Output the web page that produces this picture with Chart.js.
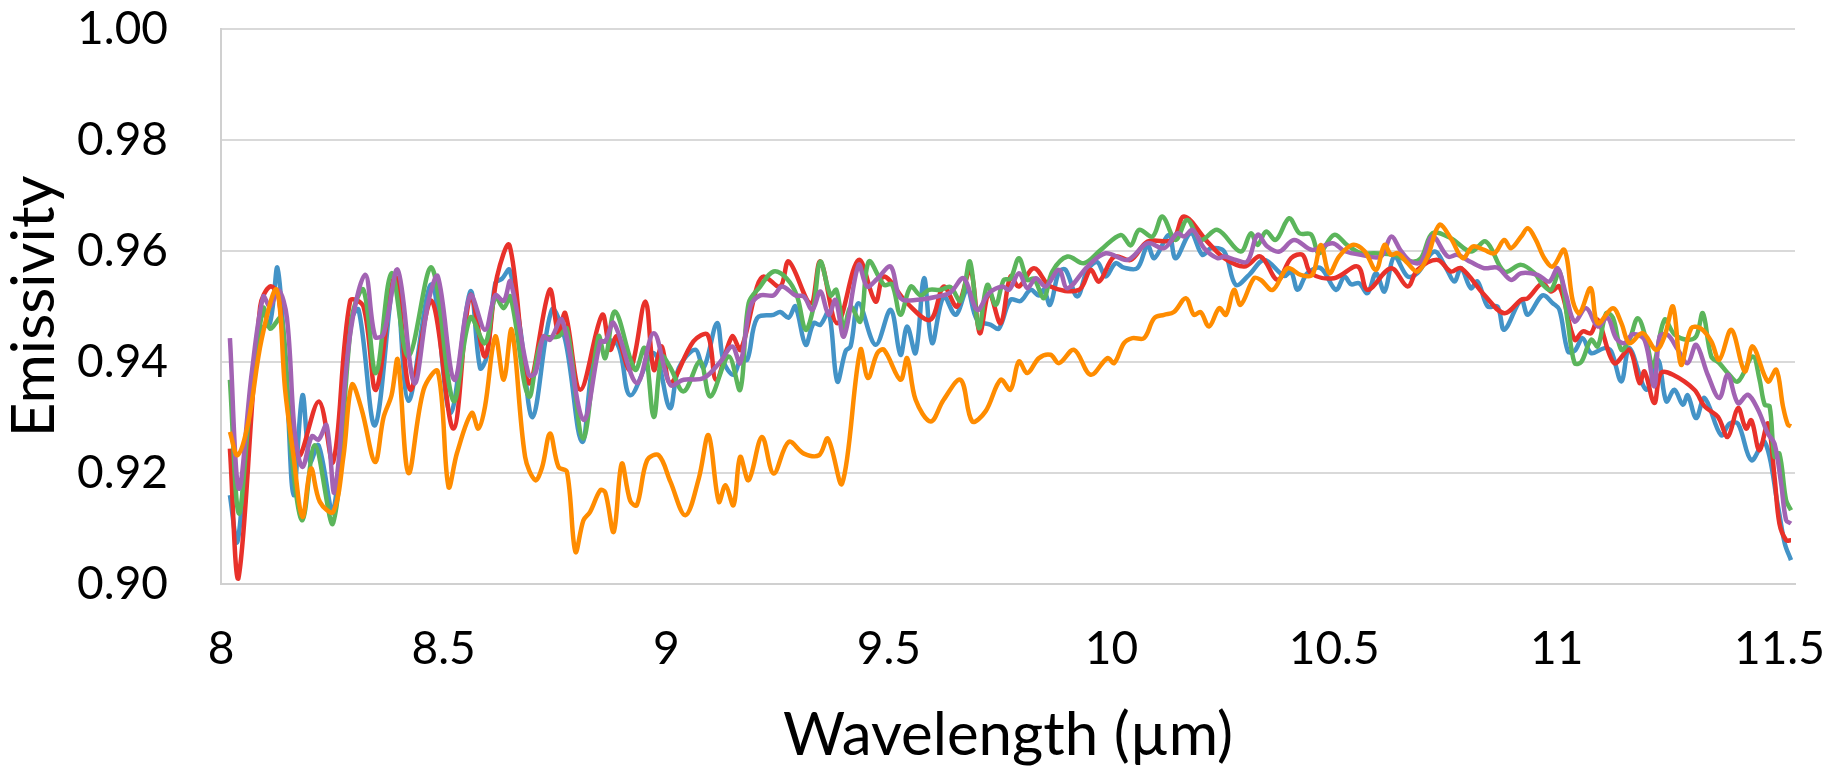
<!DOCTYPE html>
<html lang="en">
  <head>
    <meta charset="UTF-8" />
    <title>Emissivity</title>
    <script src="https://cdn.jsdelivr.net/npm/chart.js"></script>
    <style>
      body {
        margin: 0;
        background: #fff;
      }
    </style>
  </head>
  <body>
    <canvas id="myChart" width="1846" height="768"></canvas>
    <script>
      // axis ticks
      let xTicks = [8, 8.5, 9, 9.5, 10, 10.5, 11, 11.5];
      let yTicks = [0.9, 0.92, 0.94, 0.96, 0.98, 1.0];

      // [wavelength (um), emissivity]
      let red = [
        [8.020,.9244],[8.039,.901],[8.088,.950],[8.110,.9536],[8.129,.952],[8.148,.935],[8.174,.923],[8.220,.9329],[8.252,.922],[8.290,.951],[8.320,.950],[8.348,.935],[8.391,.9554],[8.425,.935],[8.473,.951],[8.522,.928],[8.560,.952],
        [8.593,.941],[8.620,.9554],[8.648,.961],[8.691,.9362],[8.738,.953],[8.758,.945],[8.773,.9488],[8.807,.935],[8.856,.9485],[8.874,.9422],[8.889,.9446],[8.919,.9386],[8.953,.9509],[8.972,.9386],[8.990,.9428],[9.009,.9362],[9.061,.9437],[9.093,.9449],[9.112,.9368],[9.148,.9446],
        [9.167,.9422],[9.204,.9536],[9.219,.9554],[9.256,.9536],[9.275,.9581],[9.324,.9506],[9.346,.9581],[9.384,.947],[9.432,.9584],[9.470,.9509],[9.489,.9554],[9.541,.9506],[9.593,.9476],[9.623,.9536],[9.653,.95],[9.683,.9566],[9.704,.9452],[9.725,.9524],[9.751,.947],
        [9.773,.9554],[9.792,.9536],[9.826,.9569],[9.863,.9536],[9.927,.953],[9.953,.9566],[9.972,.9545],[10.006,.959],[10.043,.9584],[10.081,.9617],[10.137,.962],[10.163,.9662],[10.215,.9617],[10.253,.9587],[10.298,.9572],[10.335,.959],
        [10.373,.9548],[10.403,.9587],[10.429,.9593],[10.448,.956],[10.500,.9551],[10.553,.9572],[10.575,.953],[10.628,.9569],[10.665,.9536],[10.687,.9566],[10.732,.9584],[10.762,.9563],[10.785,.9569],[10.837,.9521],[10.882,.9488],[10.920,.9512],
        [10.935,.9515],[10.968,.9542],[10.987,.9527],[11.006,.9536],[11.040,.944],[11.058,.9455],[11.077,.9452],[11.092,.9476],[11.129,.9398],[11.163,.9422],[11.186,.9362],[11.197,.9383],[11.219,.9326],[11.234,.938],[11.261,.9377],[11.309,.935],[11.332,.932],[11.362,.9301],[11.384,.9265],[11.407,.9317],[11.425,.928],[11.437,.9295],[11.455,.9241],[11.474,.9289],[11.489,.9193],[11.500,.9109],[11.515,.9079],[11.526,.9079]
      ];

      let blue = [
        [8.020,.916],[8.037,.9076],[8.061,.929],[8.091,.946],[8.110,.947],[8.127,.9569],[8.148,.935],[8.163,.916],[8.183,.934],[8.200,.922],[8.219,.925],[8.252,.913],[8.290,.947],[8.309,.9494],[8.346,.9286],[8.391,.9554],[8.421,.933],[8.473,.954],[8.515,.9308],[8.560,.9527],
        [8.582,.9389],[8.597,.941],[8.616,.9542],[8.631,.955],[8.648,.9566],[8.672,.946],[8.700,.9301],[8.743,.9494],[8.773,.944],[8.811,.9256],[8.844,.9428],[8.889,.9434],[8.919,.934],[8.972,.9416],[9.008,.9317],[9.028,.9389],[9.065,.9422],[9.084,.939],[9.114,.947],[9.129,.940],[9.151,.9377],
        [9.167,.9404],[9.182,.9404],[9.204,.9479],[9.241,.9485],[9.256,.949],[9.275,.948],[9.290,.95],[9.313,.9431],[9.331,.947],[9.346,.9467],[9.365,.949],[9.384,.9365],[9.403,.942],[9.414,.9428],[9.432,.9506],[9.470,.9431],[9.504,.9494],[9.526,.9413],[9.541,.9464],[9.560,.9416],[9.579,.9551],[9.597,.9434],[9.623,.9518],[9.650,.9485],[9.676,.953],[9.698,.9476],
        [9.729,.9467],[9.747,.946],[9.773,.9512],[9.796,.951],[9.818,.953],[9.837,.952],[9.848,.953],[9.862,.9503],[9.882,.9563],[9.897,.9566],[9.923,.9518],[9.946,.9566],[9.968,.958],[9.987,.9554],[10.009,.9578],[10.028,.957],[10.058,.9569],[10.081,.961],[10.096,.9587],[10.129,.9629],[10.144,.9587],[10.178,.9632],[10.204,.9593],[10.223,.9605],[10.253,.9599],[10.279,.9539],[10.309,.9557],
        [10.343,.9584],[10.388,.9555],[10.403,.9563],[10.418,.953],[10.440,.956],[10.470,.9569],[10.504,.953],[10.523,.9554],[10.538,.954],[10.556,.9542],[10.575,.9524],[10.594,.956],[10.613,.9527],[10.635,.959],[10.665,.9554],[10.687,.956],[10.725,.9599],[10.751,.957],[10.770,.9545],[10.785,.9569],[10.807,.9533],[10.822,.9545],[10.845,.95],[10.867,.950],[10.882,.9458],[10.920,.9512],
        [10.935,.9485],[10.968,.952],[10.991,.9506],[11.006,.9494],[11.025,.9419],[11.040,.942],[11.058,.9443],[11.077,.9416],[11.107,.9425],[11.122,.942],[11.145,.9365],[11.163,.9425],[11.201,.935],[11.227,.9404],[11.246,.9329],[11.264,.935],[11.283,.9323],[11.294,.934],[11.313,.9299],[11.332,.9335],[11.369,.9268],[11.388,.9289],[11.407,.9289],[11.437,.9223],[11.467,.9256],[11.497,.9139],[11.512,.9073],[11.526,.9043]
      ];

      let green = [
        [8.020,.9368],[8.040,.9127],[8.065,.932],[8.095,.9497],[8.110,.946],[8.136,.948],[8.159,.923],[8.183,.9115],[8.211,.925],[8.252,.911],[8.294,.948],[8.320,.953],[8.348,.938],[8.383,.956],[8.421,.941],[8.473,.957],[8.522,.933],[8.560,.948],
        [8.593,.9434],[8.616,.9518],[8.635,.9497],[8.650,.9518],[8.691,.9338],[8.721,.944],[8.758,.9446],[8.777,.946],[8.813,.9262],[8.848,.9446],[8.863,.9407],[8.885,.9491],[8.930,.9386],[8.951,.9425],[8.972,.9301],[8.990,.941],[9.009,.939],[9.039,.9347],[9.076,.9401],[9.099,.9338],[9.140,.941],[9.166,.935],
        [9.185,.9506],[9.211,.9536],[9.241,.9563],[9.271,.955],[9.294,.9518],[9.313,.9458],[9.331,.950],[9.346,.9581],[9.369,.952],[9.382,.953],[9.399,.946],[9.414,.950],[9.436,.9473],[9.455,.9581],[9.489,.9539],[9.507,.954],[9.526,.9485],[9.549,.9536],[9.571,.952],[9.590,.953],[9.616,.953],[9.638,.9535],[9.661,.951],[9.682,.9581],[9.702,.9461],[9.721,.9539],
        [9.740,.9503],[9.758,.9548],[9.773,.955],[9.792,.9587],[9.811,.9548],[9.826,.955],[9.848,.9515],[9.867,.9563],[9.901,.959],[9.938,.9578],[9.976,.9602],[10.021,.9629],[10.043,.961],[10.062,.9638],[10.092,.9626],[10.114,.9662],[10.144,.962],[10.170,.9656],[10.200,.962],[10.238,.9638],[10.290,.9599],[10.313,.9632],
        [10.328,.9611],[10.347,.9635],[10.369,.962],[10.399,.9659],[10.422,.9632],[10.448,.963],[10.466,.9596],[10.500,.9629],[10.530,.961],[10.560,.9596],[10.590,.9596],[10.635,.9593],[10.672,.9581],[10.695,.9587],[10.721,.9632],[10.762,.9623],[10.807,.9599],[10.841,.9617],[10.882,.9563],[10.920,.9575],
        [10.950,.956],[10.968,.954],[10.987,.953],[11.006,.9563],[11.025,.947],[11.040,.9398],[11.055,.940],[11.077,.944],[11.092,.9428],[11.111,.9488],[11.126,.948],[11.145,.9422],[11.163,.944],[11.182,.9479],[11.201,.944],[11.216,.9392],[11.242,.9476],[11.264,.945],[11.294,.944],[11.313,.9446],[11.328,.9488],[11.347,.941],[11.365,.9398],[11.384,.938],[11.407,.9365],[11.440,.941],[11.455,.937],[11.467,.9323],[11.478,.932],[11.489,.9229],[11.500,.9235],[11.515,.9151],[11.526,.9133]
      ];

      let purple = [
        [8.020,.9443],[8.040,.9172],[8.069,.938],[8.095,.9518],[8.110,.950],[8.129,.953],[8.148,.948],[8.166,.927],[8.183,.9211],[8.204,.9266],[8.219,.926],[8.237,.9286],[8.255,.9166],[8.290,.945],[8.324,.9557],[8.346,.9446],[8.365,.945],[8.397,.9566],[8.434,.9362],[8.466,.951],[8.487,.9554],[8.524,.9368],[8.560,.952],
        [8.593,.9458],[8.616,.952],[8.635,.951],[8.650,.9545],[8.691,.9377],[8.706,.938],[8.724,.9446],[8.739,.944],[8.766,.9476],[8.814,.9296],[8.852,.9437],[8.863,.9437],[8.882,.947],[8.934,.9362],[8.972,.9452],[9.009,.9359],[9.039,.9368],[9.084,.9371],[9.121,.940],[9.148,.9428],[9.166,.9398],
        [9.189,.95],[9.211,.952],[9.241,.952],[9.260,.9536],[9.290,.952],[9.309,.9518],[9.328,.9494],[9.346,.9527],[9.365,.9485],[9.380,.9512],[9.399,.9446],[9.432,.9575],[9.451,.9536],[9.474,.955],[9.504,.9572],[9.526,.9515],[9.564,.9512],[9.609,.9518],[9.638,.9525],[9.668,.9551],[9.698,.9494],[9.725,.9524],
        [9.755,.9536],[9.770,.953],[9.792,.956],[9.811,.9533],[9.830,.9551],[9.852,.9536],[9.882,.9566],[9.901,.9533],[9.946,.9572],[9.987,.9596],[10.036,.9584],[10.081,.9614],[10.118,.9605],[10.148,.9632],[10.163,.9626],[10.182,.9638],[10.208,.9605],[10.238,.9587],[10.253,.959],[10.279,.9584],[10.305,.9581],[10.328,.9629],
        [10.350,.9608],[10.377,.9599],[10.410,.962],[10.451,.9602],[10.496,.9614],[10.523,.960],[10.560,.9593],[10.605,.959],[10.628,.9626],[10.650,.960],[10.672,.9581],[10.695,.958],[10.721,.9626],[10.755,.959],[10.777,.9593],[10.807,.958],[10.837,.9569],[10.867,.957],[10.897,.9548],[10.920,.956],
        [10.957,.9557],[10.983,.9545],[11.002,.9569],[11.021,.952],[11.040,.9473],[11.066,.9497],[11.092,.9464],[11.114,.948],[11.133,.9443],[11.152,.9434],[11.171,.945],[11.197,.944],[11.219,.9356],[11.231,.9446],[11.249,.9449],[11.272,.9422],[11.294,.9398],[11.313,.9431],[11.339,.9377],[11.365,.9335],[11.384,.9377],[11.407,.9326],[11.429,.9341],[11.452,.9314],[11.474,.9271],[11.489,.9253],[11.504,.918],[11.515,.9115],[11.526,.9109]
      ];

      let orange = [
        [8.020,.9274],[8.037,.9232],[8.061,.929],[8.091,.944],[8.125,.953],[8.144,.935],[8.163,.923],[8.183,.9121],[8.202,.9208],[8.222,.9148],[8.252,.913],[8.275,.923],[8.294,.9359],[8.316,.9314],[8.346,.922],[8.365,.930],[8.383,.934],[8.397,.9404],[8.421,.920],[8.455,.935],[8.487,.9383],[8.511,.9175],[8.530,.9236],[8.563,.9308],
        [8.578,.928],[8.593,.932],[8.616,.9446],[8.635,.9368],[8.653,.9458],[8.683,.9229],[8.706,.9187],[8.721,.921],[8.739,.9271],[8.758,.9211],[8.777,.9202],[8.796,.9058],[8.814,.9115],[8.829,.913],[8.852,.9169],[8.863,.9165],[8.882,.9094],[8.900,.9217],[8.919,.915],[8.934,.9142],[8.957,.9223],[8.983,.9232],[9.009,.9185],[9.043,.9124],[9.073,.919],[9.095,.9268],[9.118,.9148],[9.133,.9178],[9.151,.9142],[9.166,.9229],
        [9.185,.9187],[9.215,.9265],[9.241,.9199],[9.275,.9256],[9.309,.9235],[9.343,.9232],[9.363,.9262],[9.395,.9181],[9.436,.9422],[9.453,.9371],[9.474,.9416],[9.489,.9422],[9.526,.9368],[9.541,.9407],[9.560,.9332],[9.594,.9293],[9.623,.9332],[9.661,.9368],[9.687,.9293],[9.717,.9311],[9.751,.9368],
        [9.773,.935],[9.792,.9401],[9.811,.938],[9.837,.9407],[9.863,.9413],[9.882,.9398],[9.916,.9422],[9.953,.9377],[9.991,.9407],[10.006,.9398],[10.028,.9434],[10.047,.9443],[10.073,.9443],[10.096,.9479],[10.118,.9485],[10.140,.949],[10.167,.9515],[10.185,.9485],[10.200,.949],[10.219,.9464],[10.242,.9497],[10.257,.9485],[10.275,.953],[10.290,.9503],[10.320,.9551],[10.335,.9548],
        [10.362,.953],[10.395,.9569],[10.425,.9557],[10.451,.9557],[10.470,.9611],[10.489,.956],[10.511,.959],[10.541,.9611],[10.568,.960],[10.594,.9566],[10.613,.9611],[10.628,.9593],[10.643,.9596],[10.665,.9578],[10.687,.9563],[10.710,.959],[10.736,.9647],[10.762,.9623],[10.789,.9587],[10.811,.9608],[10.837,.9602],[10.860,.9596],[10.882,.962],[10.897,.9605],[10.920,.9626],
        [10.935,.9641],[10.953,.962],[10.972,.9587],[10.991,.9572],[11.017,.9602],[11.036,.951],[11.051,.9488],[11.076,.9533],[11.092,.947],[11.126,.9497],[11.145,.947],[11.163,.9434],[11.193,.9452],[11.223,.9422],[11.242,.9446],[11.261,.95],[11.279,.9395],[11.302,.9461],[11.324,.946],[11.347,.9437],[11.365,.9404],[11.392,.9458],[11.422,.9383],[11.440,.9428],[11.474,.9365],[11.493,.9386],[11.508,.932],[11.519,.9287],[11.526,.9284]
      ];

      function pts(arr) {
        return arr.map((p) => ({ x: p[0], y: p[1] }));
      }

      function line(label, arr, color) {
        return {
          label: label,
          data: pts(arr),
          borderColor: color,
          borderWidth: 4.5,
          pointRadius: 0,
          tension: 0.35,
          fill: false,
        };
      }

      const ctx = document.getElementById("myChart");

      new Chart(ctx, {
        type: "line",
        data: {
          // first dataset is drawn on top
          datasets: [
            line("orange", orange, "#ff8c00"),
            line("purple", purple, "#a263b3"),
            line("green", green, "#5bb55b"),
            line("red", red, "#e8312a"),
            line("blue", blue, "#4393c7"),
          ],
        },
        options: {
          responsive: false,
          animation: false,
          layout: {
            autoPadding: false,
            padding: { top: 29, right: 51, bottom: 0, left: 0 },
          },
          plugins: {
            legend: { display: false },
            tooltip: { enabled: false },
          },
          scales: {
            x: {
              type: "linear",
              min: 8,
              max: 11.535,
              afterFit: (scale) => {
                scale.height = 184;
                scale.paddingLeft = 0;
                scale.paddingRight = 0;
              },
              afterBuildTicks: (scale) => {
                scale.ticks = xTicks.map((v) => ({ value: v }));
              },
              grid: { display: false, drawTicks: false },
              border: { display: true, color: "#d0d0d0", width: 2 },
              ticks: {
                padding: 38,
                color: "#000",
                font: { family: "Lato", size: 46 },
                callback: (v) => String(v),
              },
              title: {
                display: true,
                text: "Wavelength (µm)",
                color: "#000",
                font: { family: "Lato", size: 60, lineHeight: 1 },
                padding: { top: 0, bottom: 2 },
              },
            },
            y: {
              min: 0.9,
              max: 1.0,
              afterFit: (scale) => {
                scale.width = 221;
                // tick padding would otherwise push the plot down
                scale.paddingTop = 0;
                scale.paddingBottom = 0;
              },
              afterBuildTicks: (scale) => {
                scale.ticks = yTicks.map((v) => ({ value: v }));
              },
              grid: { color: "#d9d9d9", lineWidth: 2, drawTicks: false },
              border: { display: true, color: "#d0d0d0", width: 2 },
              ticks: {
                padding: 53,
                color: "#000",
                font: { family: "Lato", size: 46 },
                callback: (v) => v.toFixed(2),
              },
              title: {
                display: true,
                text: "Emissivity",
                color: "#000",
                font: { family: "Lato", size: 60, lineHeight: 1 },
                padding: { top: 5, bottom: 0 },
              },
            },
          },
        },
      });
    </script>
  </body>
</html>
